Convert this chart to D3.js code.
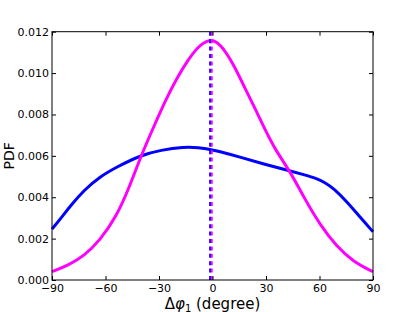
<!DOCTYPE html>
<html>
<head>
<meta charset="utf-8">
<script src="https://cdn.jsdelivr.net/npm/d3@7"></script>
<style>
  body { margin: 0; background: #fff; }
  text { font-family: "DejaVu Sans", sans-serif; }
</style>
</head>
<body>
<svg id="chart" width="415" height="312"></svg>
<script>
// angles (degree) and PDF values
const blueAngles = [-90, -85, -80, -72, -63, -54, -40, -29, -16, -8, 0, 15, 29.4, 43.5, 52, 58, 63, 68, 75.3, 82.8, 90];
const blueValues = [0.00246, 0.00298, 0.00355, 0.00435, 0.00500, 0.00545, 0.00604, 0.00628, 0.00643, 0.00640,
  0.00630, 0.00595, 0.00559, 0.00527, 0.00507, 0.00492, 0.00472, 0.00442, 0.00379, 0.00303, 0.00233];

const magentaAngles = [-90, -81, -72, -63, -54, -47, -40, -33, -26, -20, -14, -8, -2, 2, 7, 12.6, 18.2, 23.8,
  29.4, 35, 43.5, 51, 60.3, 69.7, 79, 90];
const magentaValues = [0.00040, 0.00070, 0.00116, 0.00193, 0.00305, 0.00440, 0.00602, 0.00740, 0.00875,
  0.00975, 0.01060, 0.01130, 0.01162, 0.01155, 0.01110, 0.01028, 0.00927, 0.00830, 0.00728, 0.00632,
  0.00525, 0.00403, 0.00266, 0.00161, 0.00088, 0.00040];

// vertical dashed markers (means)
const markerAngles = [-1.35, -0.39];
const markerColors = ['#0000ff', '#ff00ff'];

const xTicks = [-90, -60, -30, 0, 30, 60, 90];
const yTicks = [0, 0.002, 0.004, 0.006, 0.008, 0.010, 0.012];

const margin = {left: 52, right: 42, top: 31.7, bottom: 32};
const width = 415, height = 312;

const svg = d3.select('#chart');

const x = d3.scaleLinear()
  .domain([-90, 90])
  .range([margin.left, width - margin.right]);
const y = d3.scaleLinear()
  .domain([0, 0.012])
  .range([height - margin.bottom, margin.top]);

const line = d3.line()
  .x(function(d) { return x(d[0]); })
  .y(function(d) { return y(d[1]); })
  .curve(d3.curveBasis);

// curves
svg.append('path')
  .datum(d3.zip(blueAngles, blueValues))
  .attr('d', line)
  .attr('fill', 'none')
  .attr('stroke', '#0000ff')
  .attr('stroke-width', 3);

svg.append('path')
  .datum(d3.zip(magentaAngles, magentaValues))
  .attr('d', line)
  .attr('fill', 'none')
  .attr('stroke', '#ff00ff')
  .attr('stroke-width', 3);

// dashed vertical lines
svg.selectAll('line.marker')
  .data(markerAngles)
  .enter()
  .append('line')
  .attr('class', 'marker')
  .attr('x1', function(d) { return x(d); })
  .attr('x2', function(d) { return x(d); })
  .attr('y1', y(0))
  .attr('y2', y(0.012))
  .attr('stroke', function(d, i) { return markerColors[i]; })
  .attr('stroke-width', 1.9)
  .attr('stroke-dasharray', '4,3.4');

// frame
svg.append('rect')
  .attr('x', x(-90))
  .attr('y', y(0.012))
  .attr('width', x(90) - x(-90))
  .attr('height', y(0) - y(0.012))
  .attr('fill', 'none')
  .attr('stroke', '#000')
  .attr('stroke-width', 1);

// ticks inward on all sides
const tickLen = 4;
const axisBottom = d3.axisBottom(x).tickValues(xTicks).tickSizeInner(-tickLen).tickSizeOuter(0)
  .tickPadding(4).tickFormat(function(d) { return d3.format('d')(d).replace('-', '\u2212'); });
const axisTop = d3.axisTop(x).tickValues(xTicks).tickSizeInner(-tickLen).tickSizeOuter(0)
  .tickFormat('');
const axisLeft = d3.axisLeft(y).tickValues(yTicks).tickSizeInner(-tickLen).tickSizeOuter(0)
  .tickPadding(3).tickFormat(d3.format('.3f'));
const axisRight = d3.axisRight(y).tickValues(yTicks).tickSizeInner(-tickLen).tickSizeOuter(0)
  .tickFormat('');

function styleAxis(g) {
  g.select('.domain').remove();
  g.selectAll('.tick line').attr('stroke', '#000');
  g.selectAll('.tick text')
    .attr('fill', '#000')
    .style('font-family', '"DejaVu Sans", sans-serif')
    .style('font-size', '11px');
}

svg.append('g').attr('transform', 'translate(0,' + y(0) + ')').call(axisBottom).call(styleAxis);
svg.append('g').attr('transform', 'translate(0,' + y(0.012) + ')').call(axisTop).call(styleAxis);
svg.append('g').attr('transform', 'translate(' + x(-90) + ',0)').call(axisLeft).call(styleAxis);
svg.append('g').attr('transform', 'translate(' + x(90) + ',0)').call(axisRight).call(styleAxis);

// axis labels
svg.append('text')
  .attr('transform', 'translate(14,' + ((y(0) + y(0.012)) / 2) + ') rotate(-90)')
  .attr('text-anchor', 'middle')
  .style('font-size', '14px')
  .text('PDF');

const xl = svg.append('text')
  .attr('x', x(0))
  .attr('y', 308.5)
  .attr('text-anchor', 'middle')
  .style('font-size', '15px');
xl.append('tspan').text('\u0394');
xl.append('tspan').style('font-style', 'italic').text('\u03c6');
xl.append('tspan').attr('dy', 3).style('font-size', '10px').text('1');
xl.append('tspan').attr('dy', -3).text('\u00a0(degree)');
</script>
</body>
</html>
